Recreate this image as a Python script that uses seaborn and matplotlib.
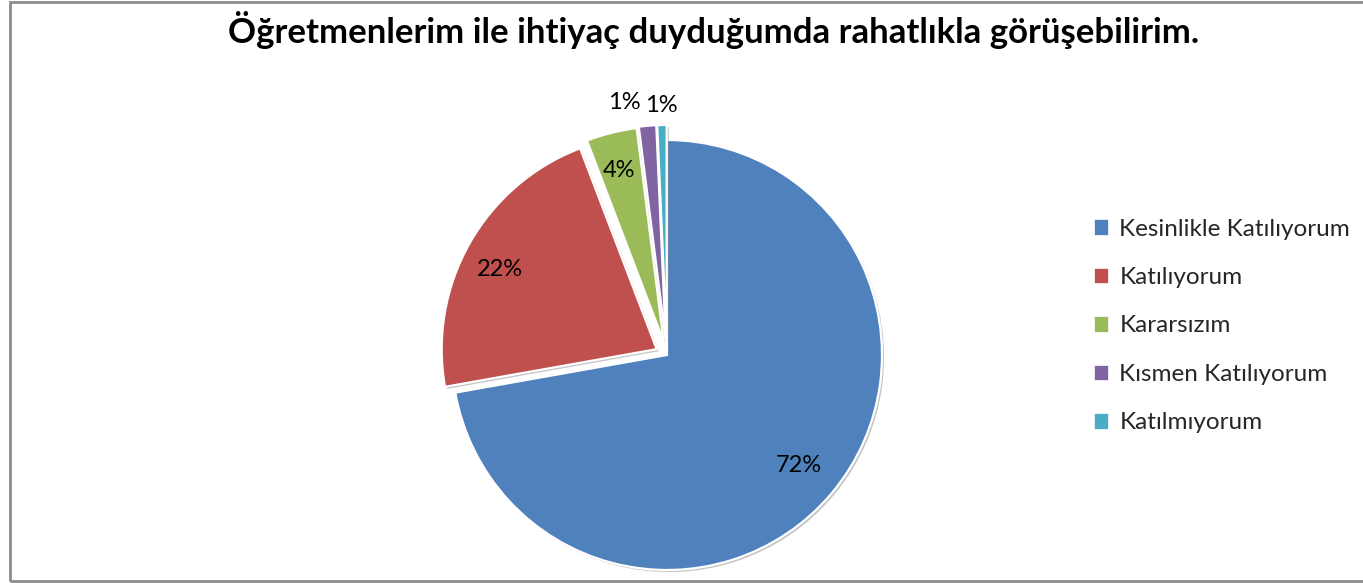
import matplotlib
matplotlib.use("Agg")
import matplotlib.pyplot as plt
import matplotlib.patheffects as pe
from matplotlib.patches import Patch
import numpy as np
import seaborn as sns

title = "Öğretmenlerim ile ihtiyaç duyduğumda rahatlıkla görüşebilirim."
categories = ["Kesinlikle Katılıyorum", "Katılıyorum", "Kararsızım",
              "Kısmen Katılıyorum", "Katılmıyorum"]
values = [72.2, 22.0, 3.8, 1.3, 0.7]
pct_labels = ["72%", "22%", "4%", "1%", "1%"]

colors = ["#4F81BD", "#C0504D", "#9BBB59", "#8064A2", "#4BACC6"]
explode = [0.0, 0.055, 0.065, 0.07, 0.07]
label_r = [0.80, 0.82, 0.82, 1.12, 1.09]
label_nudge = [0, 2.5, 0.5, 5, 0]

sns.set_theme(style="white")
plt.rcParams["font.family"] = ["Lato", "DejaVu Sans"]

W, H = 1363, 583
fig = plt.figure(figsize=(W / 100, H / 100), dpi=100)
fig.patch.set_facecolor("white")

# frame
frame = plt.Rectangle((10 / W, 2 / H), (W + 20) / W, (H - 4) / H, transform=fig.transFigure,
                      fill=False, edgecolor="#8c8c8c", linewidth=2)
fig.add_artist(frame)

R = 215
cx, cy = 667, H - 355
half = 1.5 * R
ax = fig.add_axes([(cx - half) / W, (cy - half) / H, 2 * half / W, 2 * half / H])
ax.axis("off")

wedges, _ = ax.pie(values, colors=colors, startangle=90, counterclock=False,
                   explode=explode, radius=1.0,
                   wedgeprops=dict(edgecolor="white", linewidth=1.6))
ax.set_xlim(-1.5, 1.5)
ax.set_ylim(-1.5, 1.5)
ax.set_aspect("equal")
for w in wedges:
    w.set_path_effects([pe.SimplePatchShadow(offset=(1.5, -1.5), shadow_rgbFace="#808080", alpha=0.45),
                        pe.Normal()])

for w, lab, r, nd in zip(wedges, pct_labels, label_r, label_nudge):
    th = np.deg2rad((w.theta1 + w.theta2) / 2 + nd)
    x0, y0 = w.center
    ax.text(x0 + r * np.cos(th), y0 + r * np.sin(th), lab, ha="center", va="center",
            fontsize=17, color="black")

fig.text(714 / W, 1 - 30 / H, title, ha="center", va="center", fontsize=25,
         fontweight="bold", color="black")

handles = [Patch(facecolor=c, edgecolor="white", linewidth=0.5) for c in colors]
leg = fig.legend(handles, categories, loc="center left",
                 bbox_to_anchor=(1072 / W, 1 - 326 / H), frameon=False,
                 fontsize=17.5, handlelength=0.6, handleheight=0.6,
                 handletextpad=0.45, labelspacing=1.13)

fig.savefig("out.png", dpi=100, facecolor="white")
